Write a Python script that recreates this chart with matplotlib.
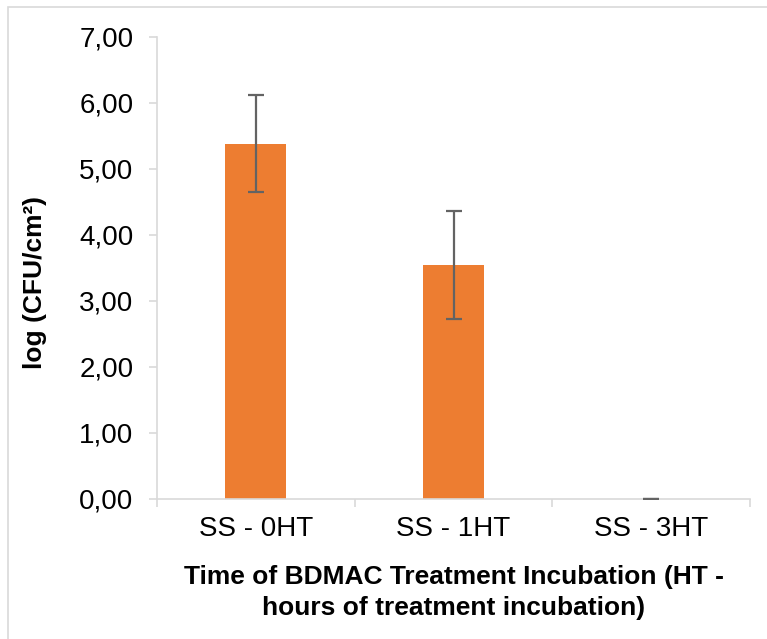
import numpy as np
import matplotlib.pyplot as plt
from matplotlib.patches import Rectangle
from matplotlib.ticker import FuncFormatter

plt.rcParams['font.family'] = ['Liberation Sans', 'DejaVu Sans']

# log counts per surface after BDMAC treatment
groups = ["SS - 0HT", "SS - 1HT", "SS - 3HT"]
log_cfu = [5.38, 3.54, 0.0]
log_cfu_err = [0.735, 0.82, 0.0]

fig = plt.figure(figsize=(7.67, 6.39), dpi=100)
ax = fig.add_axes([157/767, 1 - 499/639, (750-157)/767, (499-37)/639])

# light frame round the chart area
fig.patches.append(Rectangle((8/767, -0.1), 1.2, 1 - 7/639 + 0.1,
                             transform=fig.transFigure, fill=False,
                             edgecolor='#d9d9d9', linewidth=1.2))

x = np.arange(len(groups))
ax.bar(x, log_cfu, width=0.31, color='#ED7D31', zorder=2)
ax.errorbar(x, log_cfu, yerr=log_cfu_err, fmt='none', ecolor='#636363',
            elinewidth=1.6, capsize=6, capthick=1.6, zorder=3)

ax.set_xlim(-0.5, len(groups) - 0.5)
ax.set_ylim(0, 7)
ax.set_yticks(np.arange(0, 8, 1))
ax.yaxis.set_major_formatter(FuncFormatter(lambda v, p: f"{v:.2f}".replace('.', ',')))

ax.set_xticks(x)
ax.set_xticklabels(groups)
ax.set_xticks(np.arange(-0.5, len(groups)), minor=True)
ax.tick_params(axis='x', which='major', length=0, pad=12, labelsize=20)
ax.tick_params(axis='x', which='minor', length=6, width=1.2, color='#d9d9d9')
ax.tick_params(axis='y', length=6, width=1.2, color='#d9d9d9', pad=11, labelsize=20)

for side in ['top', 'right']:
    ax.spines[side].set_visible(False)
for side in ['left', 'bottom']:
    ax.spines[side].set_color('#d9d9d9')
    ax.spines[side].set_linewidth(1.2)

ax.set_ylabel("log (CFU/cm²)", fontsize=19, fontweight='bold')
ax.yaxis.set_label_coords(-0.186, 0.468)
ax.set_xlabel("Time of BDMAC Treatment Incubation (HT -\nhours of treatment incubation)",
              fontsize=19, fontweight='bold', labelpad=17, linespacing=1.33)

fig.savefig("out.png", dpi=100)
